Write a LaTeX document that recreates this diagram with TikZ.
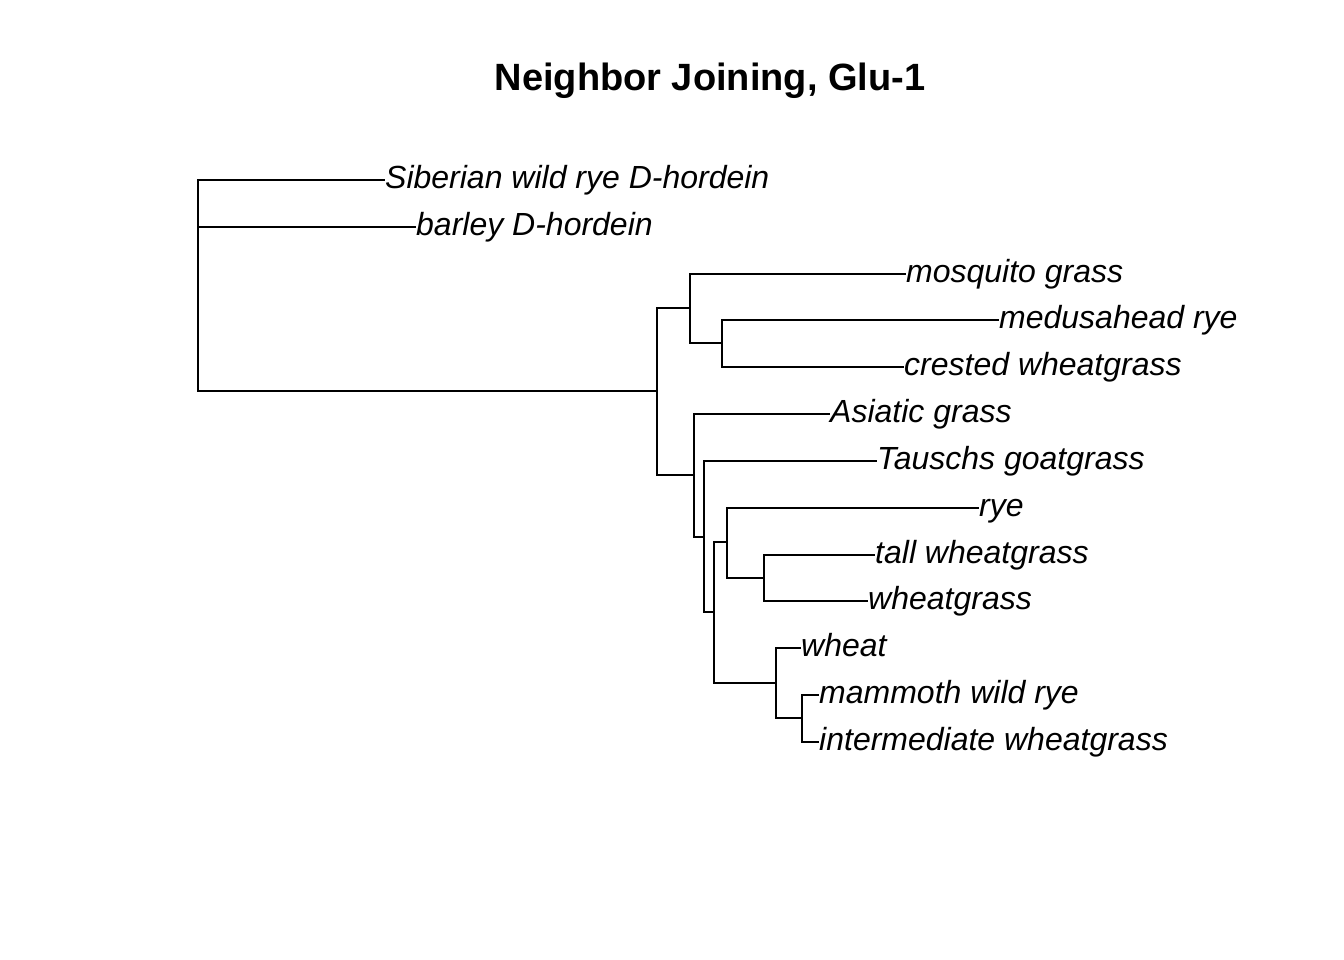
\documentclass[tikz,border=0pt]{standalone}
\usepackage{fontspec}
\setmainfont{Liberation Sans}
\begin{document}
\begin{tikzpicture}[x=1pt,y=-1pt,
  branch/.style={line width=2pt, line cap=rect},
  leaflabel/.style={anchor=base west, inner sep=0pt, font=\fontsize{32}{36}\selectfont\itshape},
  titlelabel/.style={anchor=base, inner sep=0pt, font=\fontsize{38}{42}\selectfont\bfseries}]
\useasboundingbox[fill=white] (0,0) rectangle (1344,960);
\node[titlelabel] (title) at (710,91) {Neighbor Joining, Glu-1};
% internal nodes
\coordinate (root) at (198,285);
\coordinate (A) at (657,391);
\coordinate (B) at (690,308);
\coordinate (C) at (722,343);
\coordinate (D) at (694,475);
\coordinate (E) at (704,537);
\coordinate (F) at (714,612);
\coordinate (G) at (727,542);
\coordinate (H) at (764,578);
\coordinate (I) at (776,683);
\coordinate (J) at (802,718);
% tips
\coordinate (t1) at (384,180);
\coordinate (t2) at (415,227);
\coordinate (t3) at (905,274);
\coordinate (t4) at (998,320);
\coordinate (t5) at (903,367);
\coordinate (t6) at (829,414);
\coordinate (t7) at (876,461);
\coordinate (t8) at (978,508);
\coordinate (t9) at (874,555);
\coordinate (t10) at (867,601);
\coordinate (t11) at (800,648);
\coordinate (t12) at (818,695);
\coordinate (t13) at (818,742);
% labels
\node[leaflabel] (l1) at ([xshift=1pt,yshift=-8.5pt]t1) {Siberian wild rye D-hordein};
\node[leaflabel] (l2) at ([xshift=1pt,yshift=-8.5pt]t2) {barley D-hordein};
\node[leaflabel] (l3) at ([xshift=1pt,yshift=-8.5pt]t3) {mosquito grass};
\node[leaflabel] (l4) at ([xshift=1pt,yshift=-8.5pt]t4) {medusahead rye};
\node[leaflabel] (l5) at ([xshift=1pt,yshift=-8.5pt]t5) {crested wheatgrass};
\node[leaflabel] (l6) at ([xshift=1pt,yshift=-8.5pt]t6) {Asiatic grass};
\node[leaflabel] (l7) at ([xshift=1pt,yshift=-8.5pt]t7) {Tauschs goatgrass};
\node[leaflabel] (l8) at ([xshift=1pt,yshift=-8.5pt]t8) {rye};
\node[leaflabel] (l9) at ([xshift=1pt,yshift=-8.5pt]t9) {tall wheatgrass};
\node[leaflabel] (l10) at ([xshift=1pt,yshift=-8.5pt]t10) {wheatgrass};
\node[leaflabel] (l11) at ([xshift=1pt,yshift=-8.5pt]t11) {wheat};
\node[leaflabel] (l12) at ([xshift=1pt,yshift=-8.5pt]t12) {mammoth wild rye};
\node[leaflabel] (l13) at ([xshift=1pt,yshift=-8.5pt]t13) {intermediate wheatgrass};
% branches
\draw[branch] (root) |- (t1);
\draw[branch] (root) |- (t2);
\draw[branch] (root) |- (A);
\draw[branch] (A) |- (B);
\draw[branch] (A) |- (D);
\draw[branch] (B) |- (t3);
\draw[branch] (B) |- (C);
\draw[branch] (C) |- (t4);
\draw[branch] (C) |- (t5);
\draw[branch] (D) |- (t6);
\draw[branch] (D) |- (E);
\draw[branch] (E) |- (t7);
\draw[branch] (E) |- (F);
\draw[branch] (F) |- (G);
\draw[branch] (F) |- (I);
\draw[branch] (G) |- (t8);
\draw[branch] (G) |- (H);
\draw[branch] (H) |- (t9);
\draw[branch] (H) |- (t10);
\draw[branch] (I) |- (t11);
\draw[branch] (I) |- (J);
\draw[branch] (J) |- (t12);
\draw[branch] (J) |- (t13);
\end{tikzpicture}
\end{document}
